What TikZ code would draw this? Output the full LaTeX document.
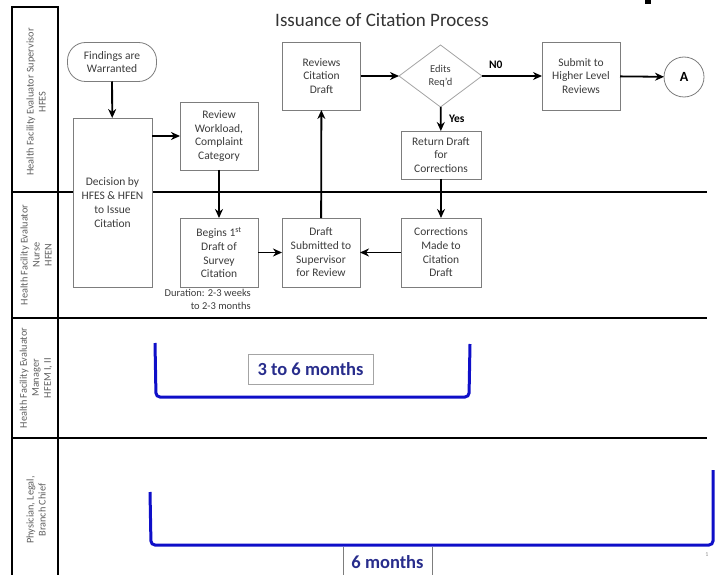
\documentclass[tikz,border=0pt]{standalone}
\usepackage{fontspec}
\setmainfont{Carlito}
\usetikzlibrary{shapes.geometric,arrows.meta}
\definecolor{boxgray}{RGB}{125,125,125}
\definecolor{txtgray}{RGB}{60,60,60}
\definecolor{lblgray}{RGB}{95,95,95}
\definecolor{brblue}{RGB}{15,15,200}
\definecolor{navy}{RGB}{40,45,140}
\begin{document}
\begin{tikzpicture}[x=1pt,y=-1pt,
  proc/.style={draw=boxgray, fill=white, line width=0.8pt, text=txtgray, align=center,
    font=\fontsize{11.5}{13.7}\selectfont, inner sep=1pt, outer sep=0pt,
    minimum width=78pt},
  flow/.style={line width=1.8pt, -{Stealth[length=9pt,width=8pt]}},
  lanerule/.style={line width=1.6pt},
  lanelabel/.style={rotate=90, align=center, text=lblgray, font=\fontsize{10.3}{12}\selectfont},
  bracket/.style={draw=brblue, line width=3pt, rounded corners=4pt},
  durlabel/.style={text=navy, font=\fontsize{18.5}{20}\selectfont\bfseries}
]
\useasboundingbox (0,0) rectangle (715,575);

% swim lanes
\draw[lanerule] (12,575) -- (12,7) -- (58,7) -- (58,575);
\draw[lanerule] (12,192) -- (707,192);
\draw[lanerule] (12,318) -- (707,318);
\draw[lanerule] (12,438) -- (707,438);
\fill (645,0) rectangle (651,4);

\node[lanelabel] (l1) at (36,102) {Health Facility Evaluator Supervisor\\HFES};
\node[lanelabel] (l2) at (36,255) {Health Facility Evaluator\\Nurse\\HFEN};
\node[lanelabel] (l3) at (36,378) {Health Facility Evaluator\\Manager\\HFEM I, II};
\node[lanelabel] (l4) at (36,510) {Physician, Legal,\\Branch Chief};

\node[font=\fontsize{19}{22}\selectfont, text=black!80] (title) at (382,20) {Issuance of Citation Process};

% flow nodes
\node[proc, minimum width=89pt, minimum height=39pt, rounded corners=18pt] (find) at (112,62) {Findings are\\Warranted};
\node[proc, minimum width=79pt, minimum height=169pt] (dec) at (112.5,202.5) {Decision by\\HFES \& HFEN\\to Issue\\Citation};
\node[proc, minimum height=68pt] (rev) at (219,136) {Review\\Workload,\\Complaint\\Category};
\node[proc, minimum height=69pt] (beg) at (219,252.5) {Begins 1\textsuperscript{st}\\Draft of\\Survey\\Citation};
\node[proc, minimum height=69pt] (sub) at (321,252.5) {Draft\\Submitted to\\Supervisor\\for Review};
\node[proc, minimum height=68pt] (revw) at (321.5,76) {Reviews\\Citation\\Draft};
\node[proc, diamond, draw=boxgray!70, minimum width=83pt, minimum height=62pt, inner sep=0pt,
  font=\fontsize{10.5}{13}\selectfont] (edits) at (440.5,76) {Edits\\Req'd};
\node[proc, minimum height=68pt] (hl) at (581,76) {Submit to\\Higher Level\\Reviews};
\node[proc, circle, minimum width=0pt, minimum size=40pt, text=black, font=\fontsize{14}{16}\selectfont\bfseries] (A) at (684,77) {A};
\node[proc, minimum width=80pt, minimum height=48pt] (ret) at (441,155) {Return Draft\\for\\Corrections};
\node[proc, minimum width=80pt, minimum height=69pt] (cor) at (441,252.5) {Corrections\\Made to\\Citation\\Draft};

\node[anchor=north east, align=right, text=txtgray, font=\fontsize{10.5}{13}\selectfont, inner sep=0pt] (dur) at (251,289) {Duration: 2-3 weeks\\to 2-3 months};

% connectors
\draw[flow] (find) -- (dec);
\draw[flow] (dec.east |- rev.west) -- (rev.west);
\draw[flow] (rev) -- (beg);
\draw[flow] (beg) -- (sub);
\draw[flow] (sub) -- (revw);
\draw[flow] (revw) -- (edits);
\draw[flow] (edits) -- node[pos=0.23, above=3pt, font=\fontsize{11.5}{12}\selectfont\bfseries] {N0} (hl);
\draw[flow] (hl) -- (A);
\draw[flow] (edits) -- node[midway, right=4pt, font=\fontsize{11.5}{12}\selectfont\bfseries] {Yes} (ret);
\draw[flow] (ret) -- (cor);
\draw[flow] (cor) -- (sub);

% duration brackets
\draw[bracket] (155,343) -- (156,397) -- (469,397) -- (470,344);
\node[draw=boxgray!70, line width=0.7pt, durlabel, minimum width=125pt, minimum height=30pt] (m36) at (310.5,369) {3 to 6 months};

\draw[bracket] (150,492) -- (151,545) -- (713,545) -- (713,470);
\coordinate (sixL) at (343,575);
\coordinate (sixR) at (432,575);
\draw[boxgray, line width=0.7pt] (343,546.5) -- (sixL);
\draw[boxgray, line width=0.7pt] (432,546.5) -- (sixR);
\node[durlabel] (m6) at (387.5,562) {6 months};

\node[text=lblgray!70, font=\fontsize{6}{7}\selectfont] (pg) at (707,555) {1};
\end{tikzpicture}
\end{document}
